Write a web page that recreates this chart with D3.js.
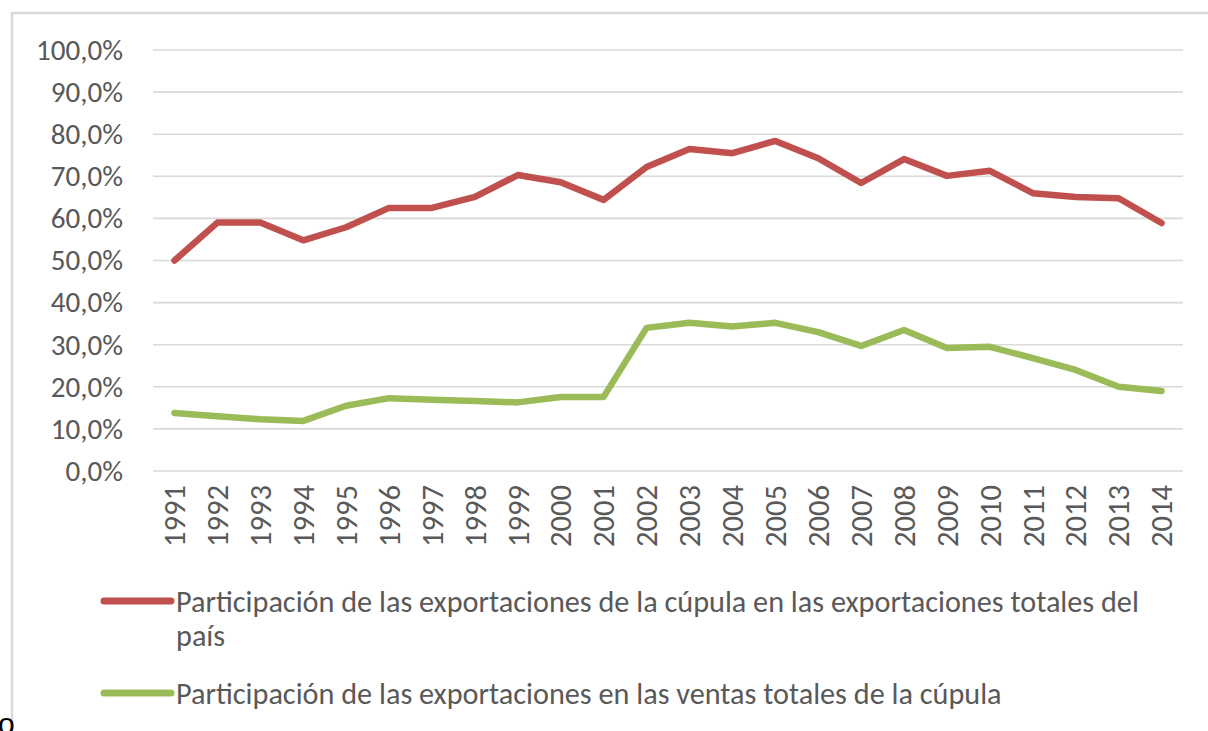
<!DOCTYPE html>
<html><head><meta charset="utf-8">
<script src="https://cdn.jsdelivr.net/npm/d3@7"></script>
<style>body{margin:0;background:#fff;} svg{display:block;}</style>
</head><body>
<svg id="c" width="1208" height="731"></svg>
<script>
const years = ["1991","1992","1993","1994","1995","1996","1997","1998","1999","2000","2001","2002","2003","2004","2005","2006","2007","2008","2009","2010","2011","2012","2013","2014"];
const legendLine1 = "Participación de las exportaciones de la cúpula en las exportaciones totales del";
const legendLine1b = "país";
const legendLine2 = "Participación de las exportaciones en las ventas totales de la cúpula";
const exportShare = [50.0,59.0,59.0,54.8,57.9,62.5,62.5,65.1,70.3,68.6,64.4,72.2,76.5,75.5,78.4,74.3,68.4,74.1,70.1,71.3,66.0,65.1,64.8,58.9];
const salesShare = [13.8,13.0,12.3,11.9,15.5,17.3,16.9,16.6,16.3,17.6,17.6,34.0,35.2,34.3,35.2,33.0,29.7,33.5,29.2,29.5,26.8,24.0,20.0,19.0];
const yTicks = [0,10,20,30,40,50,60,70,80,90,100];
const colors = ["#C0504D","#9BBB59"];

const svg = d3.select("#c");
const font = "Carlito, Calibri, 'Liberation Sans Narrow', 'Open Sans', sans-serif";

// fit a font size so that a sample text reaches a target width
function fitSize(sample, target, base){
  const t = svg.append("text").attr("font-family",font).attr("font-size",base).text(sample);
  const w = t.node().getComputedTextLength();
  t.remove();
  return base*target/w;
}
const axisSize = fitSize("100,0%", 87, 20);
const xSize = fitSize("1991", 62, 20);
const legSize = fitSize(legendLine1, 963, 20);

// outer border
svg.append("path").attr("d","M12,731 L12,13 L1208,13").attr("fill","none").attr("stroke","#D9D9D9").attr("stroke-width",2.5);

const x = d3.scaleBand().domain(years).range([153,1183]);
const y = d3.scaleLinear().domain([0,100]).range([471,50]);

// gridlines
svg.append("g").selectAll("line").data(yTicks).join("line")
  .attr("x1",153).attr("x2",1183)
  .attr("y1",d=>y(d)).attr("y2",d=>y(d))
  .attr("stroke","#D9D9D9").attr("stroke-width",1.6);

// y axis labels
const fmt = v => v.toFixed(1).replace(".", ",") + "%";
const yAxis = svg.append("g").attr("transform","translate(123,0)")
  .call(d3.axisLeft(y).tickValues(yTicks).tickFormat(fmt).tickSize(0).tickPadding(0));
yAxis.select(".domain").remove();
yAxis.selectAll("text").attr("font-family",font).attr("font-size",axisSize).attr("fill","#595959");

// x axis labels
const xAxis = svg.append("g").attr("transform","translate(0,471)")
  .call(d3.axisBottom(x).tickSize(0));
xAxis.select(".domain").remove();
xAxis.selectAll("text")
  .attr("font-family",font).attr("font-size",xSize).attr("fill","#595959")
  .attr("transform","rotate(-90)")
  .attr("text-anchor","end").attr("dy","0.35em").attr("x",-14).attr("y",0);

const line = d3.line().x((d,i)=>x(years[i])+x.bandwidth()/2).y(d=>y(d));
[exportShare, salesShare].forEach((s,k)=>{
  svg.append("path").datum(s).attr("d",line).attr("fill","none")
    .attr("stroke",colors[k]).attr("stroke-width",6.5)
    .attr("stroke-linejoin","round").attr("stroke-linecap","round");
});

// legend
const leg = svg.append("g");
const legY = [601, 693];
leg.selectAll("line").data(colors).join("line")
  .attr("x1",104).attr("x2",171).attr("y1",(d,i)=>legY[i]).attr("y2",(d,i)=>legY[i])
  .attr("stroke",d=>d).attr("stroke-width",7).attr("stroke-linecap","round");
const t1 = leg.append("text").attr("x",176).attr("y",legY[0]+11)
  .attr("font-family",font).attr("font-size",legSize).attr("fill","#595959");
t1.append("tspan").attr("x",176).text(legendLine1);
t1.append("tspan").attr("x",176).attr("dy",34).text(legendLine1b);
leg.append("text").attr("x",176).attr("y",legY[1]+11)
  .attr("font-family",font).attr("font-size",legSize).attr("fill","#595959")
  .text(legendLine2);

// stray glyph at bottom-left (cut off in the reference too)
svg.append("text").attr("x",-2).attr("y",734).attr("font-family","'Liberation Sans', Arial, sans-serif")
  .attr("font-size",30).attr("fill","#000").text("o");
</script>
</body></html>
